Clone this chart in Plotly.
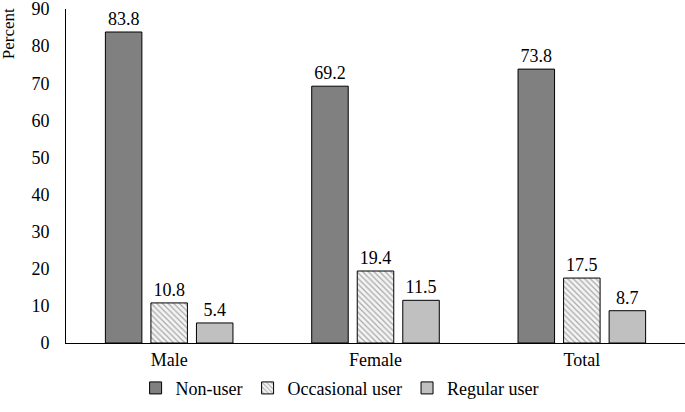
import plotly.graph_objects as go

categories = ["Male", "Female", "Total"]
non_user = [83.8, 69.2, 73.8]
occasional_user = [10.8, 19.4, 17.5]
regular_user = [5.4, 11.5, 8.7]
y_ticks = [0, 10, 20, 30, 40, 50, 60, 70, 80, 90]

FONT = "Liberation Serif"

fig = go.Figure()
fig.add_trace(go.Bar(
    name="Non-user", x=categories, y=non_user,
    marker=dict(color="#808080", line=dict(color="black", width=1)),
    text=[f"{v:.1f}" for v in non_user], textposition="outside",
))
fig.add_trace(go.Bar(
    name="Occasional user", x=categories, y=occasional_user,
    marker=dict(color="#f4f4f4", line=dict(color="black", width=1),
                pattern=dict(shape="\\", fgcolor="#a8a8a8", bgcolor="#f4f4f4",
                             size=4, solidity=0.3, fillmode="replace")),
    text=[f"{v:.1f}" for v in occasional_user], textposition="outside",
))
fig.add_trace(go.Bar(
    name="Regular user", x=categories, y=regular_user,
    marker=dict(color="#c0c0c0", line=dict(color="black", width=1)),
    text=[f"{v:.1f}" for v in regular_user], textposition="outside",
))

fig.update_traces(textfont=dict(family=FONT, size=18, color="black"), cliponaxis=False)

fig.update_layout(
    width=685, height=412,
    margin=dict(l=66, r=0, t=9, b=69, autoexpand=False),
    paper_bgcolor="white", plot_bgcolor="white",
    font=dict(family=FONT, size=18, color="black"),
    barmode="group", bargap=0.338, bargroupgap=0.198,
    showlegend=True,
    legend=dict(orientation="h", x=0.442, xanchor="center", y=-0.080, yanchor="top",
                font=dict(family=FONT, size=18, color="black"), itemwidth=30,
                bgcolor="rgba(0,0,0,0)"),
    xaxis=dict(showline=True, linecolor="black", linewidth=1, ticks="", automargin=False,
               showgrid=False, tickfont=dict(family=FONT, size=18)),
    yaxis=dict(range=[0, 90], tickvals=y_ticks, showline=True, linecolor="black",
               linewidth=1, ticks="", showgrid=False, zeroline=False, automargin=False,
               ticklabeloverflow="allow", ticklabelstandoff=12,
               tickfont=dict(family=FONT, size=18)),
    annotations=[dict(text="Percent", textangle=-90, xref="paper", yref="paper",
                      x=-0.0937, y=1.01, xanchor="center", yanchor="top",
                      showarrow=False, font=dict(family=FONT, size=17))],
)

fig.write_html("out.html", config={"displayModeBar": False},
               post_script="document.body.style.margin='0';")
